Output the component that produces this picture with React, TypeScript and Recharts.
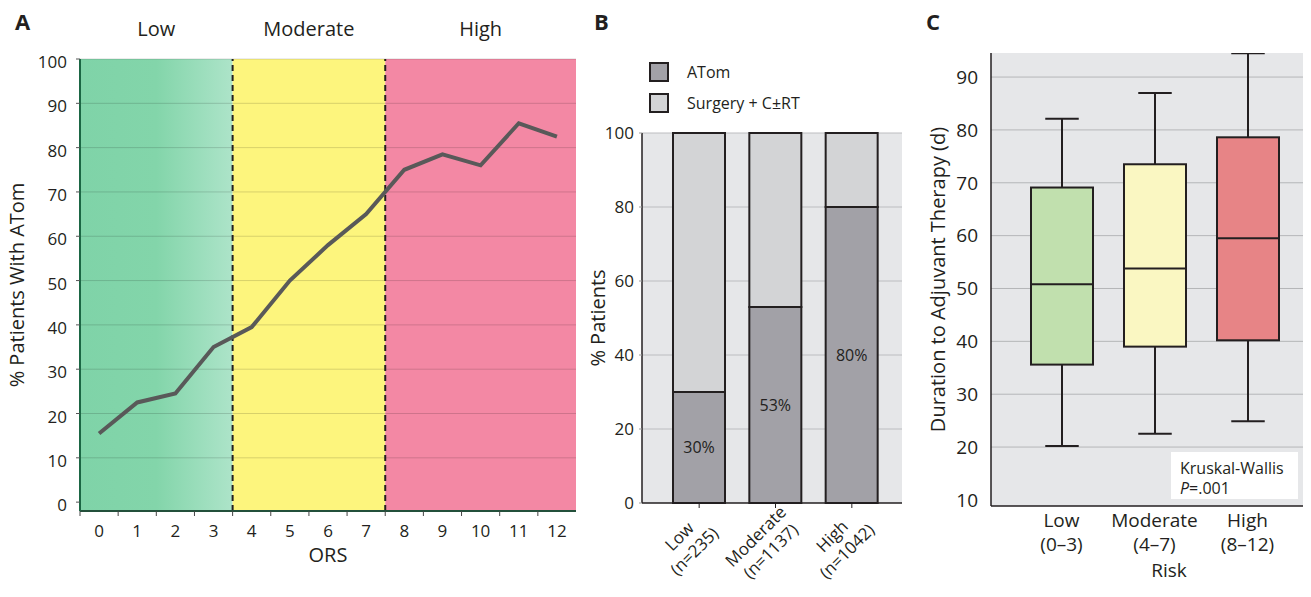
import {
  Bar,
  BarChart,
  CartesianGrid,
  Label,
  LabelList,
  Legend,
  Line,
  LineChart,
  ReferenceArea,
  ReferenceLine,
  XAxis,
  YAxis,
} from "recharts";

const FONT = '"Open Sans", "Noto Sans", Arial, sans-serif';
const INK = "#231f20";

// A: % of patients treated with ATom, by ORS score
const orsScores = [0, 1, 2, 3, 4, 5, 6, 7, 8, 9, 10, 11, 12];
const atomShare = [15.5, 22.5, 24.5, 35, 39.5, 50, 58, 65, 75, 78.5, 76, 85.5, 82.5];
const riskNames = ["Low", "Moderate", "High"];
const riskCutoffs = [-0.5, 3.5, 7.5, 12.5];
const pctTicks = [0, 10, 20, 30, 40, 50, 60, 70, 80, 90, 100];
const pctGrid = [10, 20, 30, 40, 50, 60, 70, 80, 90, 100];

// B: treatment split per risk group
const groupSizes = [235, 1137, 1042];
const atomPct = [30, 53, 80];
const surgeryPct = [70, 47, 20];
const shareTicks = [0, 20, 40, 60, 80, 100];

// C: days to adjuvant therapy (box plot)
const orsRanges = ["0–3", "4–7", "8–12"];
const daysMin = [20.2, 22.5, 24.9];
const daysQ1 = [35.6, 39, 40.2];
const daysMedian = [50.8, 53.8, 59.5];
const daysQ3 = [69.1, 73.5, 78.6];
const daysMax = [82.1, 87, 94.5];
const dayTicks = [10, 20, 30, 40, 50, 60, 70, 80, 90];
const dayGrid = [20, 30, 40, 50, 60, 70, 80, 90];

const orsData = orsScores.map((ors, i) => ({ ors, pct: atomShare[i] }));
const treatmentData = riskNames.map((risk, i) => ({
  risk,
  atom: atomPct[i],
  surgery: surgeryPct[i],
}));
const durationData = riskNames.map((risk, i) => ({
  risk,
  range: [daysMin[i], daysMax[i]],
  min: daysMin[i],
  q1: daysQ1[i],
  median: daysMedian[i],
  q3: daysQ3[i],
  max: daysMax[i],
}));

const bandFills = ["url(#lowBand)", "#fdf57d", "#f388a4"];
const boxFills = ["#c1e0ae", "#faf7c2", "#e78486"];

const A_W = 600;
const A_MARGIN = { top: 59, right: 24, bottom: 30, left: 0 };
const A_YAXIS_W = 80;
const A_HALF_STEP = (A_W - A_MARGIN.right - A_YAXIS_W) / orsScores.length / 2;

function OrsTick(props: any) {
  const { x, y, payload } = props;
  return (
    <g>
      <line
        x1={x - A_HALF_STEP}
        x2={x - A_HALF_STEP}
        y1={y - 14}
        y2={y - 9}
        stroke="#444"
      />
      <text x={x} y={y} dy="0.71em" textAnchor="middle" fontSize={17} fill={INK}>
        {payload.value}
      </text>
    </g>
  );
}

function GroupTick(props: any) {
  const { x, y, payload, index } = props;
  return (
    <g transform={`translate(${x},${y}) rotate(-45)`}>
      <text textAnchor="middle" fontSize={17} fill={INK}>
        <tspan x={-34} y={6} dy="0.355em">
          {payload.value}
        </tspan>
        <tspan x={-34} y={27} dy="0.355em">
          (n={groupSizes[index]})
        </tspan>
      </text>
    </g>
  );
}

function RiskTick(props: any) {
  const { x, y, payload, index } = props;
  return (
    <text x={x} y={y} textAnchor="middle" fontSize={19} fill={INK}>
      <tspan x={x} dy="0.71em">
        {payload.value}
      </tspan>
      <tspan x={x} dy="1.24em">
        ({orsRanges[index]})
      </tspan>
    </text>
  );
}

function BoxShape(props: any) {
  const { x, y, width, height, payload, index } = props;
  const k = height / (payload.max - payload.min);
  const py = (v: number) => y + (payload.max - v) * k;
  const cx = x + width / 2;
  const cap = width * 0.27;
  return (
    <g stroke={INK} strokeWidth={2}>
      <line x1={cx} x2={cx} y1={py(payload.max)} y2={py(payload.q3)} />
      <line x1={cx} x2={cx} y1={py(payload.q1)} y2={py(payload.min)} />
      <line x1={cx - cap} x2={cx + cap} y1={py(payload.max)} y2={py(payload.max)} />
      <line x1={cx - cap} x2={cx + cap} y1={py(payload.min)} y2={py(payload.min)} />
      <rect
        x={x}
        y={py(payload.q3)}
        width={width}
        height={py(payload.q1) - py(payload.q3)}
        fill={boxFills[index]}
      />
      <line x1={x} x2={x + width} y1={py(payload.median)} y2={py(payload.median)} />
    </g>
  );
}

function TreatmentLegend(props: any) {
  const { payload = [] } = props;
  return (
    <div style={{ fontSize: 16, color: INK, fontFamily: FONT }}>
      {payload.map((item: any) => (
        <div
          key={item.value}
          style={{ display: "flex", alignItems: "center", height: 30.5 }}
        >
          <span
            style={{
              width: 16,
              height: 16,
              border: `2px solid ${INK}`,
              background: item.color,
              marginRight: 18,
            }}
          />
          <span>{item.value}</span>
        </div>
      ))}
    </div>
  );
}

const panelLetter = (left: number) => ({
  position: "absolute" as const,
  left,
  top: 6,
  fontSize: 22,
  fontWeight: 700,
  color: INK,
});

export default function App() {
  return (
    <div
      style={{
        position: "absolute",
        left: 0,
        top: 0,
        width: 1311,
        height: 597,
        background: "#fff",
        fontFamily: FONT,
        color: INK,
      }}
    >
      <div style={{ position: "absolute", left: 0, top: 0 }}>
        <LineChart width={A_W} height={597} data={orsData} margin={A_MARGIN}>
          <defs>
            <linearGradient id="lowBand" x1="0" y1="0" x2="1" y2="0">
              <stop offset="0" stopColor="#7fd3a8" />
              <stop offset="0.5" stopColor="#83d5aa" />
              <stop offset="1" stopColor="#ade4c9" />
            </linearGradient>
          </defs>
          {riskNames.map((name, i) => (
            <ReferenceArea
              key={name}
              x1={riskCutoffs[i]}
              x2={riskCutoffs[i + 1]}
              fill={bandFills[i]}
              fillOpacity={1}
              strokeOpacity={0}
              zIndex={-50}
              label={{ value: name, position: "top", offset: 23, fontSize: 20, fill: INK }}
            />
          ))}
          {pctGrid.map((v) => (
            <ReferenceLine key={v} y={v} stroke="#000" strokeOpacity={0.15} />
          ))}
          <ReferenceLine x={riskCutoffs[1]} stroke={INK} strokeWidth={2} strokeDasharray="6 4" />
          <ReferenceLine x={riskCutoffs[2]} stroke={INK} strokeWidth={2} strokeDasharray="6 4" />
          <XAxis
            dataKey="ors"
            type="number"
            domain={[-0.5, 12.5]}
            ticks={orsScores}
            interval={0}
            height={56}
            tickSize={6}
            tickMargin={8}
            tickLine={false}
            tick={<OrsTick />}
            axisLine={{ stroke: "#23503b", strokeWidth: 2 }}
          >
            <Label value="ORS" position="insideBottom" offset={5} fontSize={20} fill={INK} />
          </XAxis>
          <YAxis
            type="number"
            domain={[-2, 100]}
            ticks={pctTicks}
            interval={0}
            width={A_YAXIS_W}
            tickSize={4}
            tickMargin={9}
            tick={{ fontSize: 17, fill: INK, dy: 3 }}
            tickLine={{ stroke: "#555" }}
            axisLine={{ stroke: "#1b6644", strokeWidth: 2 }}
          >
            <Label
              value="% Patients With ATom"
              angle={-90}
              position="insideLeft"
              offset={17}
              fontSize={20}
              fill={INK}
              style={{ textAnchor: "middle" }}
            />
          </YAxis>
          <Line
            dataKey="pct"
            stroke="#595959"
            strokeWidth={4}
            dot={false}
            isAnimationActive={false}
          />
        </LineChart>
      </div>

      <div style={{ position: "absolute", left: 560, top: 0 }}>
        <BarChart
          width={360}
          height={597}
          data={treatmentData}
          margin={{ top: 133, right: 18, bottom: 24, left: 0 }}
        >
          <CartesianGrid
            vertical={false}
            horizontalValues={[20, 40, 60, 80, 100]}
            fill="#e6e7e9"
            stroke="#bcbdc0"
          />
          <XAxis
            dataKey="risk"
            height={70}
            padding={{ left: 19, right: 12 }}
            tickSize={5}
            tickMargin={0}
            interval={0}
            tick={<GroupTick />}
            tickLine={{ stroke: INK }}
            axisLine={{ stroke: INK, strokeWidth: 1.5 }}
          />
          <YAxis
            type="number"
            domain={[0, 100]}
            ticks={shareTicks}
            interval={0}
            width={82}
            tickSize={3}
            tickMargin={5}
            tick={{ fontSize: 17, fill: INK }}
            tickLine={{ stroke: "#999" }}
            axisLine={{ stroke: INK, strokeWidth: 1.5 }}
          >
            <Label
              value="% Patients"
              angle={-90}
              position="insideLeft"
              offset={38}
              fontSize={20}
              fill={INK}
              style={{ textAnchor: "middle" }}
            />
          </YAxis>
          <Legend
            layout="vertical"
            align="center"
            verticalAlign="middle"
            wrapperStyle={{ top: 57, left: 89, width: "auto" }}
            content={<TreatmentLegend />}
          />
          <Bar
            dataKey="atom"
            name="ATom"
            stackId="t"
            fill="#a2a1a7"
            stroke={INK}
            strokeWidth={2}
            barSize={52}
            isAnimationActive={false}
          >
            <LabelList
              dataKey="atom"
              position="center"
              formatter={(v: any) => `${v}%`}
              fontSize={16}
              fill={INK}
            />
          </Bar>
          <Bar
            dataKey="surgery"
            name="Surgery + C±RT"
            stackId="t"
            fill="#d3d4d6"
            stroke={INK}
            strokeWidth={2}
            barSize={52}
            isAnimationActive={false}
          />
        </BarChart>
      </div>

      <div style={{ position: "absolute", left: 900, top: 0 }}>
        <BarChart
          width={411}
          height={597}
          data={durationData}
          margin={{ top: 53, right: 8, bottom: 16, left: 0 }}
        >
          <CartesianGrid
            vertical={false}
            horizontalValues={dayGrid}
            fill="#e6e7e9"
            stroke="#b5b6b8"
          />
          <XAxis
            dataKey="risk"
            height={75}
            padding={{ left: 24, right: 9 }}
            tickSize={6}
            tickMargin={2}
            tickLine={false}
            interval={0}
            tick={<RiskTick />}
            axisLine={{ stroke: INK, strokeWidth: 1.5 }}
          >
            <Label value="Risk" position="insideBottom" offset={4} dx={22} fontSize={19} fill={INK} />
          </XAxis>
          <YAxis
            type="number"
            domain={[8.85, 94.55]}
            allowDataOverflow
            ticks={dayTicks}
            interval={0}
            width={91}
            tickSize={6}
            tickMargin={7}
            tickLine={false}
            tick={{ fontSize: 19, fill: INK }}
            axisLine={{ stroke: INK, strokeWidth: 1.5 }}
          >
            <Label
              value="Duration to Adjuvant Therapy (d)"
              angle={-90}
              position="insideLeft"
              offset={38}
              fontSize={20}
              fill={INK}
              style={{ textAnchor: "middle" }}
            />
          </YAxis>
          <Bar
            dataKey="range"
            barSize={62}
            shape={<BoxShape />}
            isAnimationActive={false}
          />
        </BarChart>
      </div>

      <div
        style={{
          position: "absolute",
          left: 1171,
          top: 452,
          width: 118,
          height: 41,
          padding: "6px 0 0 9px",
          background: "#fff",
          fontSize: 16,
          lineHeight: "20px",
          color: INK,
        }}
      >
        <div>Kruskal-Wallis</div>
        <div>
          <i>P</i>=.001
        </div>
      </div>

      <div style={panelLetter(15)}>A</div>
      <div style={panelLetter(594)}>B</div>
      <div style={panelLetter(926)}>C</div>
    </div>
  );
}
